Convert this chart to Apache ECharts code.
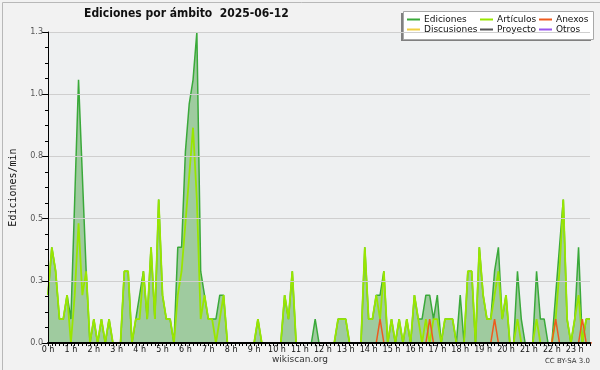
<!DOCTYPE html>
<html><head><meta charset="utf-8">
<script src="https://cdn.jsdelivr.net/npm/echarts@6/dist/echarts.min.js"></script>
<style>html,body{margin:0;padding:0;background:#f2f2f2}#c{width:600px;height:370px}</style>
</head><body><div id="c"></div>
<script>
// 10-minute bins, 00:00 .. 23:40 (143 points)
const hourLabels = ["0 h","1 h","2 h","3 h","4 h","5 h","6 h","7 h","8 h","9 h","10 h","11 h","12 h","13 h","14 h","15 h","16 h","17 h","18 h","19 h","20 h","21 h","22 h","23 h"];
const times = [];
for (let h = 0; h < 24; h++) for (let m = 0; m < 60; m += 10) times.push(String(h).padStart(2,"0") + ":" + String(m).padStart(2,"0"));
times.length = 143;

const ediciones = [0.2,0.4,0.3,0.1,0.1,0.2,0.1,0.6,1.1,0.7,0.3,0,0.1,0,0.1,0,0.1,0,0,0,0.3,0.3,0,0.1,0.2,0.3,0.1,0.4,0.1,0.6,0.2,0.1,0.1,0,0.4,0.4,0.8,1.0,1.1,1.3,0.3,0.2,0.1,0.1,0.1,0.2,0.2,0,0,0,0,0,0,0,0,0.1,0,0,0,0,0,0,0.2,0.1,0.3,0,0,0,0,0,0.1,0,0,0,0,0,0.1,0.1,0.1,0,0,0,0,0.4,0.1,0.1,0.2,0.2,0.3,0,0.1,0,0.1,0,0.1,0,0.2,0.1,0.1,0.2,0.2,0.1,0.2,0,0.1,0.1,0.1,0,0.2,0,0.3,0.3,0,0.4,0.2,0.1,0.1,0.3,0.4,0.1,0.2,0,0,0.3,0.1,0,0,0,0.3,0.1,0.1,0,0,0.2,0.4,0.6,0.1,0,0.1,0.4,0,0.1,0.1];
const articulos = [0.2,0.4,0.3,0.1,0.1,0.2,0,0.2,0.5,0.2,0.3,0,0.1,0,0.1,0,0.1,0,0,0,0.3,0.3,0,0.1,0.1,0.3,0.1,0.4,0.1,0.6,0.2,0.1,0.1,0,0.2,0.3,0.5,0.7,0.9,0.6,0.1,0.2,0.1,0.1,0,0.1,0.2,0,0,0,0,0,0,0,0,0.1,0,0,0,0,0,0,0.2,0.1,0.3,0,0,0,0,0,0,0,0,0,0,0,0.1,0.1,0.1,0,0,0,0,0.4,0.1,0.1,0.2,0.1,0.3,0,0.1,0,0.1,0,0.1,0,0.2,0.1,0,0.1,0,0.1,0.1,0,0.1,0.1,0.1,0,0,0,0.3,0.3,0,0.4,0.2,0.1,0.1,0.2,0.3,0.1,0.2,0,0,0.1,0,0,0,0,0.1,0,0,0,0,0.1,0.3,0.6,0.1,0,0.1,0.2,0,0.1,0.1];
const anexos = [0,0,0,0,0,0,0,0,0,0,0,0,0,0,0,0,0,0,0,0,0,0,0,0,0,0,0,0,0,0,0,0,0,0,0,0,0,0,0,0,0,0,0,0,0,0,0,0,0,0,0,0,0,0,0,0,0,0,0,0,0,0,0,0,0,0,0,0,0,0,0,0,0,0,0,0,0,0,0,0,0,0,0,0,0,0,0,0.1,0,0,0,0,0,0,0,0,0,0,0,0,0.1,0,0,0,0,0,0,0,0,0,0,0,0,0,0,0,0,0.1,0,0,0,0,0,0,0,0,0,0,0,0,0,0,0,0.1,0,0,0,0,0,0,0.1,0,0,0];
const discusiones = [];
const proyecto = [];
const otros = [];

const FONT = "DejaVu Sans";
const chart = echarts.init(document.getElementById("c"), null, {renderer: "canvas"});
const seriesLine = (name, data, color, width, extra) => Object.assign({
  name, type: "line", data, symbol: "none", smooth: false,
  lineStyle: {color, width}, itemStyle: {color}, emphasis: {disabled: true}, animation: false
}, extra || {});

const legendBase = {orient: "vertical", itemWidth: 13, itemHeight: 2, itemGap: 1, icon: "rect",
  textStyle: {fontFamily: FONT, fontSize: 9, color: "#111", lineHeight: 9, padding: [0,0,0,-1]}, selectedMode: false, padding: 0};

chart.setOption({
  backgroundColor: "#f2f2f2",
  animation: false,
  title: {text: "Ediciones por ámbito  2025-06-12", left: 84, top: 8, padding: 0,
    textStyle: {fontFamily: "DejaVu Sans Condensed, DejaVu Sans", fontSize: 12, fontWeight: "bold", color: "#111"}},
  legend: [
    Object.assign({}, legendBase, {left: 407, top: 15, data: ["Ediciones", "Discusiones"]}),
    Object.assign({}, legendBase, {left: 480, top: 15, data: ["Artículos", "Proyecto"]}),
    Object.assign({}, legendBase, {left: 539, top: 15, data: ["Anexos", "Otros"]})
  ],
  graphic: [
    {type: "rect", left: 0, top: 0, shape: {width: 599, height: 369}, style: {fill: "none", stroke: "#b8b8b8", lineWidth: 1}, z: 100},
    {type: "rect", left: 401, top: 13, shape: {width: 190, height: 28}, style: {fill: "#808080"}, z: 0},
    {type: "rect", left: 403, top: 11, shape: {width: 190, height: 28}, style: {fill: "#ffffff", stroke: "#a8a8a8", lineWidth: 1}, z: 0},
    {type: "text", left: "center", top: 355, style: {text: "wikiscan.org", fontFamily: FONT, fontSize: 9, fill: "#333"}},
    {type: "text", right: 10, top: 358, style: {text: "CC BY-SA 3.0", fontFamily: FONT, fontSize: 7, fill: "#333"}}
  ],
  grid: {left: 46, right: 10, top: 32, bottom: 27, show: true, backgroundColor: "#eef0f1", borderWidth: 0},
  xAxis: {
    type: "category", data: times, boundaryGap: false, z: 5,
    axisLine: {lineStyle: {color: "#000", width: 2}},
    axisTick: {interval: 0, length: 3, lineStyle: {color: "#000"}},
    axisLabel: {interval: 5, margin: 3, fontFamily: FONT, fontSize: 8, color: "#111",
      formatter: (v, i) => hourLabels[Math.floor(i / 6)]},
    splitLine: {show: false}
  },
  yAxis: {
    type: "value", min: 0, max: 1.3, interval: 0.26, z: 5,
    name: "Ediciones/min", nameLocation: "middle", nameGap: 30,
    nameTextStyle: {fontFamily: "DejaVu Sans Mono", fontSize: 10, color: "#111"},
    axisLine: {show: true, lineStyle: {color: "#000", width: 1}},
    axisTick: {show: true, length: 6, lineStyle: {color: "#000"}},
    minorTick: {show: true, splitNumber: 4, length: 3, lineStyle: {color: "#000"}},
    axisLabel: {margin: 5, fontFamily: FONT, fontSize: 8, color: "#555",
      formatter: v => v.toFixed(1)},
    splitLine: {show: true, lineStyle: {color: "#cfcfcf", width: 1}}
  },
  series: [
    seriesLine("Ediciones", ediciones, "#3aa93a", 1.5, {areaStyle: {color: "#9fcb9f", opacity: 1}}),
    seriesLine("Discusiones", discusiones, "#f0cf40", 1.5),
    seriesLine("Proyecto", proyecto, "#555555", 1.5),
    seriesLine("Otros", otros, "#9955ee", 1.5),
    seriesLine("Artículos", articulos, "#99e600", 1.8),
    seriesLine("Anexos", anexos, "#ee5a1e", 1.5)
  ]
});
</script></body></html>
